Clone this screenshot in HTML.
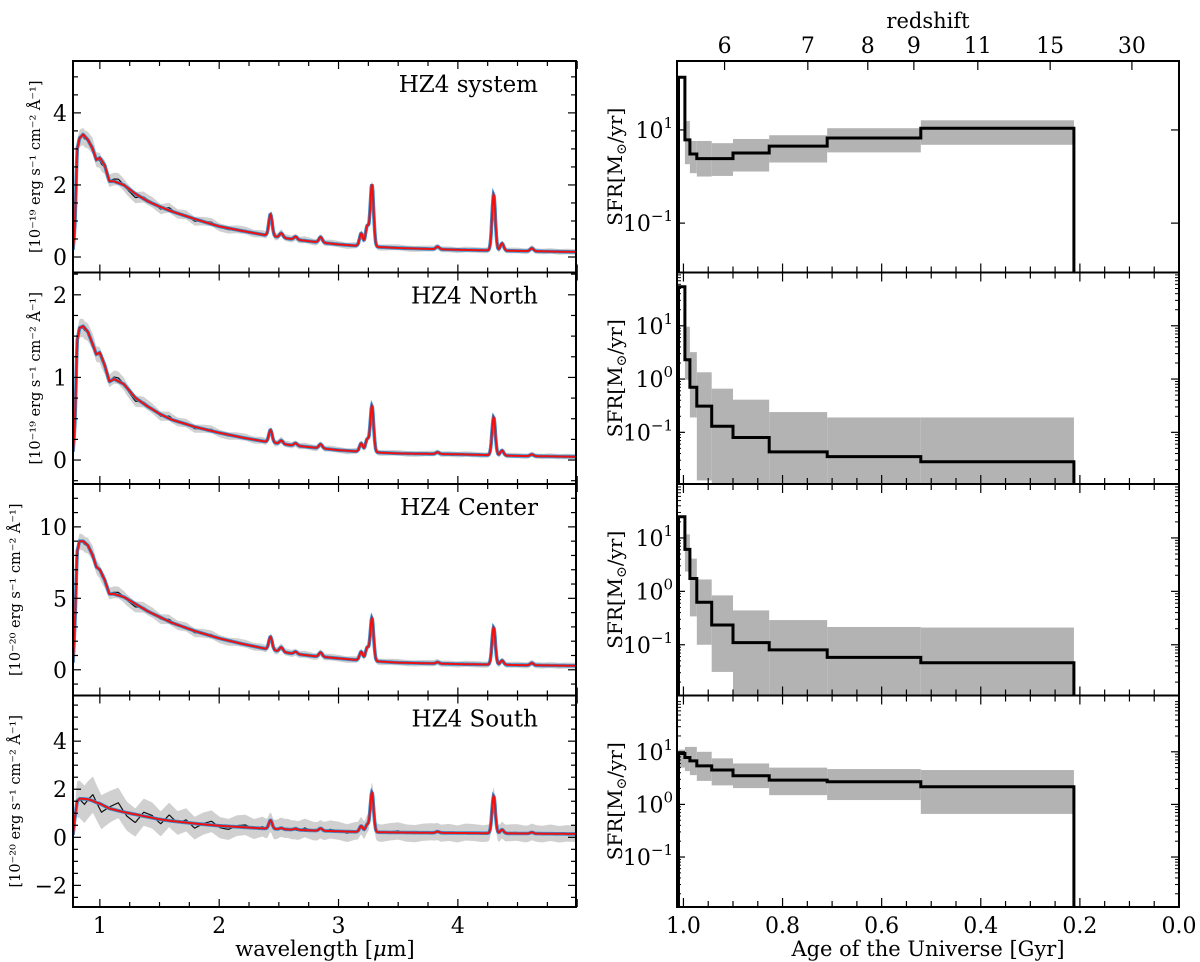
<!DOCTYPE html>
<html><head><meta charset="utf-8"><style>
html,body{margin:0;padding:0;background:#fff;}
svg{display:block;font-family:"DejaVu Serif","Liberation Serif",serif;}
</style></head><body>
<svg id="fig" width="1200" height="962" viewBox="0 0 1200 962" xmlns="http://www.w3.org/2000/svg"></svg>
<script>
// ---------- Spectra data ----------
const contWave = [0.775,0.79,0.81,0.83,0.86,0.9,0.94,0.97,1.0,1.04,1.08,1.12,1.2,1.3,1.4,1.5,1.6,1.8,2.0,2.2,2.4,2.6,2.8,3.0,3.2,3.5,4.0,4.5,4.99];
const contSystem = [0.2,0.8,3.0,3.3,3.4,3.25,3.0,2.7,2.75,2.55,2.1,2.1,2.0,1.75,1.55,1.4,1.27,1.05,0.85,0.72,0.6,0.5,0.42,0.35,0.3,0.25,0.2,0.17,0.14];
const contNorth = [0.1,0.4,1.45,1.6,1.62,1.55,1.4,1.28,1.3,1.15,0.95,0.98,0.92,0.75,0.65,0.56,0.49,0.4,0.33,0.27,0.22,0.18,0.15,0.12,0.1,0.08,0.07,0.05,0.04];
const contCenter = [0.5,3.0,8.3,9.0,9.0,8.7,8.0,7.2,7.0,6.3,5.3,5.3,5.1,4.6,4.1,3.7,3.3,2.7,2.2,1.8,1.45,1.15,0.95,0.8,0.65,0.5,0.4,0.33,0.28];
const contSouth = [0.1,0.8,1.5,1.6,1.6,1.58,1.52,1.45,1.4,1.3,1.2,1.15,1.05,0.95,0.85,0.75,0.68,0.57,0.48,0.42,0.36,0.32,0.28,0.25,0.22,0.2,0.18,0.16,0.14];
const lineWave = [2.43,2.52,2.64,2.85,3.19,3.24,3.28,3.83,4.30,4.37,4.62];
const ampSystem = [0.6,0.12,0.08,0.15,0.35,0.55,1.72,0.07,1.55,0.2,0.08];
const ampNorth = [0.15,0.04,0.03,0.05,0.1,0.15,0.56,0.02,0.46,0.06,0.02];
const ampCenter = [0.9,0.3,0.15,0.3,0.6,0.9,3.0,0.1,2.6,0.3,0.15];
const ampSouth = [0.35,0.05,0.05,0.1,0.25,0.3,1.65,0.05,1.55,0.15,0.05];
const noiseShape = [0.3,-0.5,0.6,-0.8,0.2,0.9,-0.4,-1.0,0.5,0.3,-0.6,0.8,-0.2,0.4,-0.7,0.1,0.6,-0.3,-0.5,0.2,0.4,-0.2,0.3,-0.4,0.1,0.2,-0.3,0.4,-0.1,-0.2,0.3,0.1,-0.3,0.2,-0.1,0.2,-0.2,0.1,0.3,-0.1,-0.2,0.1,0.2,-0.1,0.1,-0.2,0.2,0.1,-0.1,0.1,-0.2,0.1,0.2,-0.1,0.1,-0.1,0.2,-0.1,0.1,0.0];
const noiseAmp = [0.15,0.06,0.3,0.45];
const bandBase = [0.07,0.03,0.2,0.3];
const bandFrac = [0.05,0.05,0.04,0.3];
const specNames = ["HZ4 system","HZ4 North","HZ4 Center","HZ4 South"];
const specUnits = ["19","19","20","20"];
const specYlim = [[-0.43,5.44],[-0.29,2.27],[-1.8,13.0],[-2.9,5.9]];
const specMajor = [[0,2,4],[0,1,2],[0,5,10],[-2,0,2,4]];
const specMinorStep = [0.5,0.25,1,0.5];
const wlTicks = [1,2,3,4];

// ---------- SFR data ----------
const ageEdges = [1.010,0.997,0.987,0.973,0.943,0.900,0.827,0.710,0.521,0.212];
const sfrSystem = [135,6.1,3.05,2.43,2.43,3.2,4.5,6.7,10.9];
const hiSystem = [135,15.6,5.8,5.8,5.2,6.4,7.7,10.9,16.1];
const loSystem = [135,1.84,1.18,1.0,1.03,1.28,2.0,3.3,4.8];
const sfrNorth = [54,2.3,0.70,0.31,0.13,0.080,0.043,0.035,0.028];
const hiNorth = [54,9.6,3.2,1.34,0.66,0.41,0.24,0.19,0.19];
const loNorth = [54,0.97,0.19,0.0125,0.005,0.005,0.005,0.005,0.005];
const sfrCenter = [25,6.1,1.74,0.625,0.234,0.11,0.080,0.058,0.046];
const hiCenter = [25,11.7,4.1,1.67,0.84,0.44,0.29,0.215,0.21];
const loCenter = [25,2.35,0.34,0.10,0.031,0.005,0.005,0.005,0.005];
const sfrSouth = [9.3,7.8,6.7,5.4,4.5,3.5,2.9,2.7,2.16];
const hiSouth = [11,12.4,12.4,10,7.5,6.0,5.0,4.7,4.5];
const loSouth = [5,4.3,3.6,2.8,2.3,2.04,1.5,1.21,0.66];
const sfrLogYlim = [[-2.06,2.48],[-1.97,2.0],[-1.95,2.01],[-1.95,2.07]];
const ageTicks = [1.0,0.8,0.6,0.4,0.2,0.0];
const ageTickLabels = ["1.0","0.8","0.6","0.4","0.2","0.0"];
const zLabels = ["6","7","8","9","11","15","30"];
const zAges = [0.917,0.749,0.628,0.535,0.406,0.260,0.095];

// ---------- helpers ----------
const NS = "http://www.w3.org/2000/svg";
const svg = document.getElementById("fig");
function mk(tag, attrs, parent){
  const e = document.createElementNS(NS, tag);
  for (const k in attrs) e.setAttribute(k, attrs[k]);
  (parent||svg).appendChild(e);
  return e;
}
function interp(xs, ys, x){
  if (x <= xs[0]) return ys[0];
  for (let i=1;i<xs.length;i++){ if (x <= xs[i]){ const t=(x-xs[i-1])/(xs[i]-xs[i-1]); return ys[i-1]+t*(ys[i]-ys[i-1]); } }
  return ys[ys.length-1];
}
const PT = 61, PH = 211.5;
const LX0 = 73, LX1 = 576, RX0 = 677, RX1 = 1179;
const WMIN = 0.775, WMAX = 4.99;
function xW(w){ return LX0 + (w-WMIN)/(WMAX-WMIN)*(LX1-LX0); }
const AMAX = 1.013, AMIN = 0.0;
function xA(a){ return RX0 + (AMAX-a)/(AMAX-AMIN)*(RX1-RX0); }

const defs = mk("defs", {});
const conts = [contSystem, contNorth, contCenter, contSouth];
const amps = [ampSystem, ampNorth, ampCenter, ampSouth];
const FS = 22;
const ylabX = [40,40,20,20];

// ---------- left spectra ----------
for (let p=0;p<4;p++){
  const top = PT + p*PH, bot = top + PH;
  const [y0,y1] = specYlim[p];
  const yV = v => bot - (v-y0)/(y1-y0)*PH;
  const cp = mk("clipPath", {id:"lc"+p}, defs);
  mk("rect", {x:LX0, y:top, width:LX1-LX0, height:PH}, cp);
  const g = mk("g", {"clip-path":"url(#lc"+p+")"});
  
  
  const up=[], lo=[], obs=[], mod=[];
  const cmax = Math.max(...conts[p]);
  for (let w=WMIN; w<=WMAX+1e-9; w+=0.004){
    const c = interp(contWave, conts[p], w);
    let m = c;
    for (let k=0;k<lineWave.length;k++){ const d=(w-lineWave[k])/0.014; m += amps[p][k]*Math.exp(-0.5*d*d); }
    const nt = (w-0.8)/(WMAX-0.8)*(noiseShape.length-1);
    const nz = w<0.8 ? 0 : interp(noiseShape.map((_,i)=>i), noiseShape, nt);
    const o = m + noiseAmp[p]*nz*(0.4+0.6*c/cmax);
    const s = bandBase[p] + bandFrac[p]*c;
    const X = xW(w).toFixed(1);
    up.push(X+","+yV(o+s).toFixed(1)); lo.unshift(X+","+yV(o-s).toFixed(1));
    obs.push(X+","+yV(o).toFixed(1)); mod.push(X+","+yV(m).toFixed(1));
  }
  const band = mk("polygon", {points: up.concat(lo).join(" "), fill:"#d0d0d0", stroke:"none"}, g);
  
  
  const ob = mk("polyline", {points: obs.join(" "), fill:"none", stroke:"#111", "stroke-width":1.2}, g);
  
  
  const mb = mk("polyline", {points: mod.join(" "), fill:"none", stroke:"#3a8fd0", "stroke-width":3.6}, g);
  
  
  const mr = mk("polyline", {points: mod.join(" "), fill:"none", stroke:"#ee1111", "stroke-width":2}, g);
  
  
  for (let k=0; k<=16; k++){
    const w = 1 + k*0.25;
    const major = k%4===0;
    const L = major?8:5, X=xW(w);
    mk("line",{x1:X,x2:X,y1:bot,y2:bot-L,stroke:"#000","stroke-width":1.2});
    mk("line",{x1:X,x2:X,y1:top,y2:top+L,stroke:"#000","stroke-width":1.2});
  }
  const ms = specMinorStep[p];
  for (let v=Math.ceil(y0/ms)*ms; v<=y1; v+=ms){
    const major = specMajor[p].some(t=>Math.abs(t-v)<1e-6);
    const L = major?8:5, Y=yV(v);
    mk("line",{x1:LX0,x2:LX0+L,y1:Y,y2:Y,stroke:"#000","stroke-width":1.2});
    mk("line",{x1:LX1,x2:LX1-L,y1:Y,y2:Y,stroke:"#000","stroke-width":1.2});
  }
  for (const t of specMajor[p]){
    const tl = mk("text",{x:67,y:yV(t)+8,"text-anchor":"end","font-size":FS});
    tl.textContent = t<0 ? "\u2212"+(-t) : String(t);
    
    
  }
  const fr = mk("rect",{x:LX0,y:top,width:LX1-LX0,height:PH,fill:"none",stroke:"#000","stroke-width":2});
  
  
  const tt = mk("text",{x:538,y:top+31,"text-anchor":"end","font-size":23});
  tt.textContent = specNames[p];
  
  
  const cy = top + PH/2;
  const yl = mk("text",{x:0,y:0,"text-anchor":"middle","font-size":14.5,transform:"translate("+ylabX[p]+","+cy+") rotate(-90)"});
  yl.textContent = "[10\u207B"+(specUnits[p]==="19"?"\u00B9\u2079":"\u00B2\u2070")+" erg s\u207B\u00B9 cm\u207B\u00B2 \u00C5\u207B\u00B9]";
  
  
}
for (const t of wlTicks){
  const tl = mk("text",{x:xW(t),y:933,"text-anchor":"middle","font-size":FS});
  tl.textContent = String(t);
  
  
}
{
  const xt = mk("text",{x:325,y:956,"text-anchor":"middle","font-size":21});
  xt.innerHTML = 'wavelength [<tspan font-style="italic">\u03BC</tspan>m]';
  
  
}

// ---------- right SFR panels ----------
const sfrs=[sfrSystem,sfrNorth,sfrCenter,sfrSouth];
const his=[hiSystem,hiNorth,hiCenter,hiSouth];
const los=[loSystem,loNorth,loCenter,loSouth];
for (let p=0;p<4;p++){
  const top = PT + p*PH, bot = top + PH;
  const [l0,l1] = sfrLogYlim[p];
  const yS = v => bot - (Math.log10(v)-l0)/(l1-l0)*PH;
  const cp = mk("clipPath", {id:"rc"+p}, defs);
  mk("rect", {x:RX0, y:top, width:RX1-RX0, height:PH}, cp);
  const g = mk("g", {"clip-path":"url(#rc"+p+")"});
  
  
  for (let i=0;i<sfrs[p].length;i++){
    if (his[p][i]===los[p][i]) continue;
    const xa = xA(ageEdges[i]), xb = xA(ageEdges[i+1]);
    const yt = yS(his[p][i]), yb = yS(los[p][i]);
    const r = mk("rect",{x:xa,y:yt,width:xb-xa,height:yb-yt,fill:"#b3b3b3"},g);
    
    
  }
  let d = "M"+xA(ageEdges[0])+","+(bot+5);
  for (let i=0;i<sfrs[p].length;i++){
    d += " L"+xA(ageEdges[i]).toFixed(1)+","+yS(sfrs[p][i]).toFixed(1)+" L"+xA(ageEdges[i+1]).toFixed(1)+","+yS(sfrs[p][i]).toFixed(1);
  }
  d += " L"+xA(ageEdges[ageEdges.length-1]).toFixed(1)+","+(bot+5);
  const sl = mk("path",{d:d,fill:"none",stroke:"#000","stroke-width":3},g);
  
  
  for (let k=0;k<=20;k++){
    const a = k*0.05, major = k%4===0, L = major?9:6, X = xA(a);
    mk("line",{x1:X,x2:X,y1:bot,y2:bot-L,stroke:"#000","stroke-width":1.2});
    if (p>0) mk("line",{x1:X,x2:X,y1:top,y2:top+L,stroke:"#000","stroke-width":1.2});
  }
  const majors = p===0 ? [-1,1] : [-1,0,1];
  if (p>0){
    for (let e=-3;e<=2;e++) for (let m=2;m<=9;m++){
      const lv = e+Math.log10(m); if (lv<l0||lv>l1) continue;
      const Y = yS(Math.pow(10,lv));
      mk("line",{x1:RX0,x2:RX0+4,y1:Y,y2:Y,stroke:"#000","stroke-width":1});
      mk("line",{x1:RX1,x2:RX1-4,y1:Y,y2:Y,stroke:"#000","stroke-width":1});
    }
  }
  for (const e of majors){
    const Y = yS(Math.pow(10,e));
    mk("line",{x1:RX0,x2:RX0+8,y1:Y,y2:Y,stroke:"#000","stroke-width":1.2});
    mk("line",{x1:RX1,x2:RX1-8,y1:Y,y2:Y,stroke:"#000","stroke-width":1.2});
    const tl = mk("text",{x:673,y:Y+8,"text-anchor":"end","font-size":FS});
    tl.innerHTML = '10<tspan dy="-10" font-size="15">'+(e<0?"\u2212"+(-e):e)+'</tspan>';
    
    
  }
  const fr = mk("rect",{x:RX0,y:top,width:RX1-RX0,height:PH,fill:"none",stroke:"#000","stroke-width":2});
  
  
  const yl = mk("text",{x:0,y:0,"text-anchor":"middle","font-size":20,transform:"translate(622,"+(top+PH/2)+") rotate(-90)"});
  yl.innerHTML = 'SFR[M<tspan font-size="14" dy="4">\u2299</tspan><tspan dy="-4">/yr]</tspan>';
  
  
}
for (let i=0;i<ageTicks.length;i++){
  const tl = mk("text",{x:xA(ageTicks[i]),y:933,"text-anchor":"middle","font-size":FS});
  tl.textContent = ageTickLabels[i];
  
  
}
{
  const xt = mk("text",{x:928,y:956,"text-anchor":"middle","font-size":21});
  xt.textContent = "Age of the Universe [Gyr]";
  
  
}
for (let i=0;i<zLabels.length;i++){
  const X = xA(zAges[i]);
  mk("line",{x1:X,x2:X,y1:PT,y2:PT+9,stroke:"#000","stroke-width":1.2});
  const tl = mk("text",{x:X,y:53,"text-anchor":"middle","font-size":FS});
  tl.textContent = zLabels[i];
  
  
}
{
  const zt = mk("text",{x:928,y:28,"text-anchor":"middle","font-size":21});
  zt.textContent = "redshift";
  
  
}
</script>
</body></html>
